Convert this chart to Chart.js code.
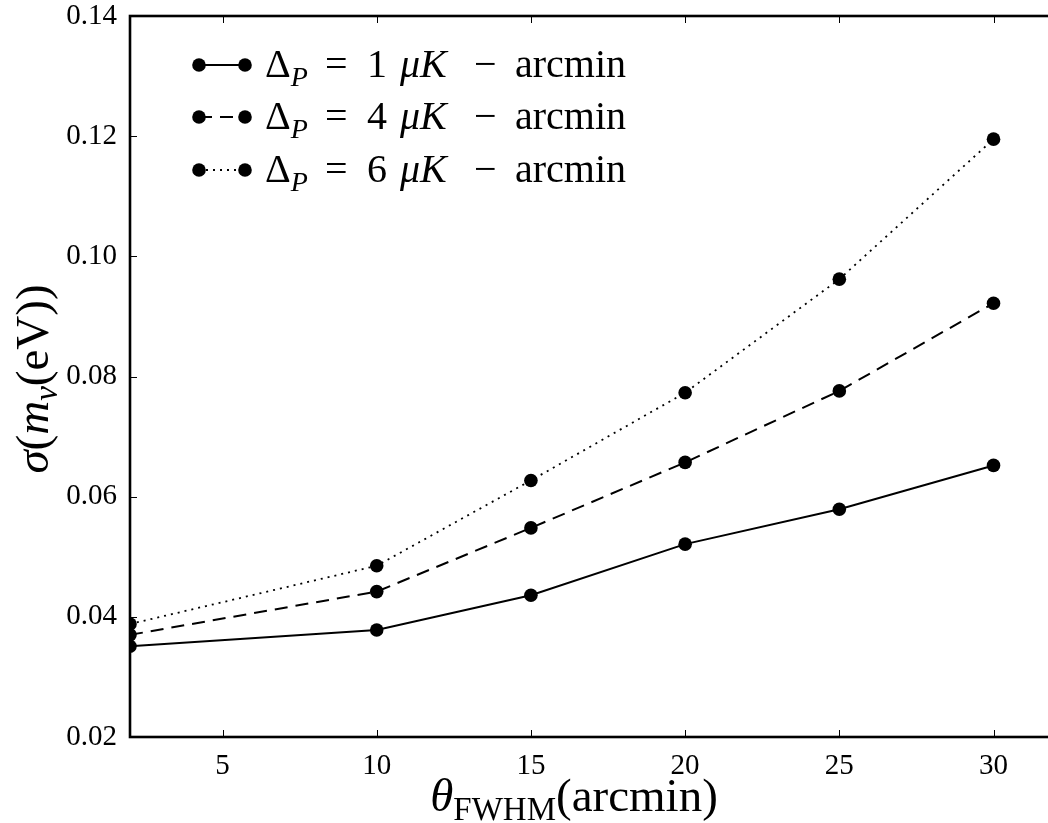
<!DOCTYPE html>
<html><head><meta charset="utf-8">
<script src="https://cdn.jsdelivr.net/npm/chart.js@4"></script>
<style>html,body{margin:0;padding:0;overflow:hidden;background:#fff}#c{display:block;width:1062px;height:823px}</style>
</head><body><canvas id="c" width="1062" height="823"></canvas>
<script>
// ---- data ----
const thetaFWHM = [2, 10, 15, 20, 25, 30];
const sigmaDP1 = [0.0351, 0.0378, 0.0436, 0.0521, 0.0579, 0.0652];
const sigmaDP4 = [0.0370, 0.0442, 0.0548, 0.0657, 0.0776, 0.0922];
const sigmaDP6 = [0.0388, 0.0485, 0.0627, 0.0773, 0.0962, 0.1195];
const noiseLevels = ['1', '4', '6'];
const xTickValues = [5, 10, 15, 20, 25, 30];
const yTickValues = [0.02, 0.04, 0.06, 0.08, 0.10, 0.12, 0.14];

const SERIF = '"Liberation Serif", "DejaVu Serif", serif';
const dashes = [[], [13, 8], [2, 5]];
const seriesVals = [sigmaDP1, sigmaDP4, sigmaDP6];

const datasets = seriesVals.map((vals, i) => ({
  label: 'Δ_P = ' + noiseLevels[i] + ' μK − arcmin',
  data: thetaFWHM.map((x, j) => ({x: x, y: vals[j]})),
  borderColor: '#000',
  backgroundColor: '#000',
  borderWidth: i === 2 ? 1.8 : 2,
  borderDash: dashes[i],
  pointRadius: 6.8,
  pointHoverRadius: 6.8,
  pointBorderWidth: 0,
  pointBackgroundColor: '#000',
  tension: 0,
  fill: false,
  clip: 0
}));

function drawRuns(ctx, runs, x, y, align) {
  let total = 0;
  runs.forEach(r => { ctx.font = r.font; r.w = ctx.measureText(r.t).width; total += r.w; });
  let cx = align === 'center' ? x - total / 2 : x;
  ctx.textAlign = 'left';
  ctx.textBaseline = 'alphabetic';
  runs.forEach(r => {
    ctx.font = r.font;
    const px = (r.x !== undefined) ? r.x : cx;
    ctx.fillText(r.t, px, y + (r.dy || 0));
    cx = px + r.w;
  });
  return total;
}

const decor = {
  id: 'decor',
  afterDraw(chart) {
    const ctx = chart.ctx, a = chart.chartArea;
    const xs = chart.scales.x, ys = chart.scales.y;
    ctx.save();
    // ticks (inside)
    ctx.strokeStyle = '#000';
    ctx.lineWidth = 1;
    const tl = 7;
    xTickValues.forEach(v => {
      const px = Math.round(xs.getPixelForValue(v)) + 0.5;
      ctx.beginPath(); ctx.moveTo(px, a.bottom); ctx.lineTo(px, a.bottom - tl); ctx.stroke();
      ctx.beginPath(); ctx.moveTo(px, a.top); ctx.lineTo(px, a.top + tl); ctx.stroke();
    });
    yTickValues.forEach(v => {
      const py = Math.round(ys.getPixelForValue(v)) + 0.5;
      ctx.beginPath(); ctx.moveTo(a.left, py); ctx.lineTo(a.left + tl, py); ctx.stroke();
      ctx.beginPath(); ctx.moveTo(a.right, py); ctx.lineTo(a.right - tl, py); ctx.stroke();
    });
    // frame
    ctx.lineWidth = 2.6;
    ctx.strokeRect(a.left, a.top, a.right - a.left, a.bottom - a.top);

    ctx.fillStyle = '#000';
    // x title
    const tBig = 47, tSub = 33;
    drawRuns(ctx, [
      {t: 'θ', font: 'italic ' + tBig + 'px ' + SERIF},
      {t: 'FWHM', font: tSub + 'px ' + SERIF, dy: 9},
      {t: '(arcmin)', font: tBig + 'px ' + SERIF}
    ], 574, 811, 'center');
    // y title
    ctx.save();
    ctx.translate(48, 379);
    ctx.rotate(-Math.PI / 2);
    drawRuns(ctx, [
      {t: 'σ', font: 'italic ' + tBig + 'px ' + SERIF},
      {t: '(', font: tBig + 'px ' + SERIF},
      {t: 'm', font: 'italic ' + tBig + 'px ' + SERIF},
      {t: 'ν', font: 'italic ' + tSub + 'px ' + SERIF, dy: 9},
      {t: '(eV))', font: tBig + 'px ' + SERIF}
    ], 0, 0, 'center');
    ctx.restore();

    // legend
    const rowsY = [65, 117, 170];
    const lBig = 40, lSub = 28;
    chart.data.datasets.forEach((ds, i) => {
      const y = rowsY[i];
      ctx.save();
      ctx.strokeStyle = ds.borderColor;
      ctx.lineWidth = ds.borderWidth;
      ctx.setLineDash(ds.borderDash);
      ctx.beginPath(); ctx.moveTo(199, y); ctx.lineTo(245, y); ctx.stroke();
      ctx.setLineDash([]);
      ctx.fillStyle = ds.pointBackgroundColor;
      [199, 245].forEach(cx => { ctx.beginPath(); ctx.arc(cx, y, ds.pointRadius, 0, Math.PI * 2); ctx.fill(); });
      ctx.restore();
      drawRuns(ctx, [
        {t: 'Δ', font: lBig + 'px ' + SERIF, x: 265},
        {t: 'P', font: 'italic ' + lSub + 'px ' + SERIF, dy: 9},
        {t: '=', font: lBig + 'px ' + SERIF, x: 325},
        {t: noiseLevels[i], font: lBig + 'px ' + SERIF, x: 367},
        {t: 'μK', font: 'italic ' + lBig + 'px ' + SERIF, x: 400},
        {t: '−', font: lBig + 'px ' + SERIF, x: 474},
        {t: 'arcmin', font: lBig + 'px ' + SERIF, x: 515}
      ], 0, y + 12, 'left');
    });
    ctx.restore();
  }
};

new Chart(document.getElementById('c'), {
  type: 'line',
  data: {datasets: datasets},
  options: {
    responsive: false,
    maintainAspectRatio: false,
    animation: false,
    layout: {padding: {top: 16, right: 0, left: 0, bottom: 0}},
    plugins: {legend: {display: false}, tooltip: {enabled: false}},
    scales: {
      x: {
        type: 'linear', min: 2, max: 32,
        afterFit(s) { s.height = 86; s.paddingLeft = 0; s.paddingRight = 0; },
        afterBuildTicks(s) { s.ticks = xTickValues.map(v => ({value: v})); },
        grid: {display: false, drawTicks: false},
        border: {display: false},
        ticks: {color: '#000', padding: 12, maxRotation: 0, font: {family: SERIF, size: 29}, callback: v => String(v)}
      },
      y: {
        type: 'linear', min: 0.02, max: 0.14,
        afterFit(s) { s.width = 130; s.paddingTop = 0; s.paddingBottom = 0; },
        afterBuildTicks(s) { s.ticks = yTickValues.map(v => ({value: v})); },
        grid: {display: false, drawTicks: false},
        border: {display: false},
        ticks: {color: '#000', padding: 13, font: {family: SERIF, size: 29}, callback: v => v.toFixed(2)}
      }
    }
  },
  plugins: [decor]
});
</script>
</body></html>
